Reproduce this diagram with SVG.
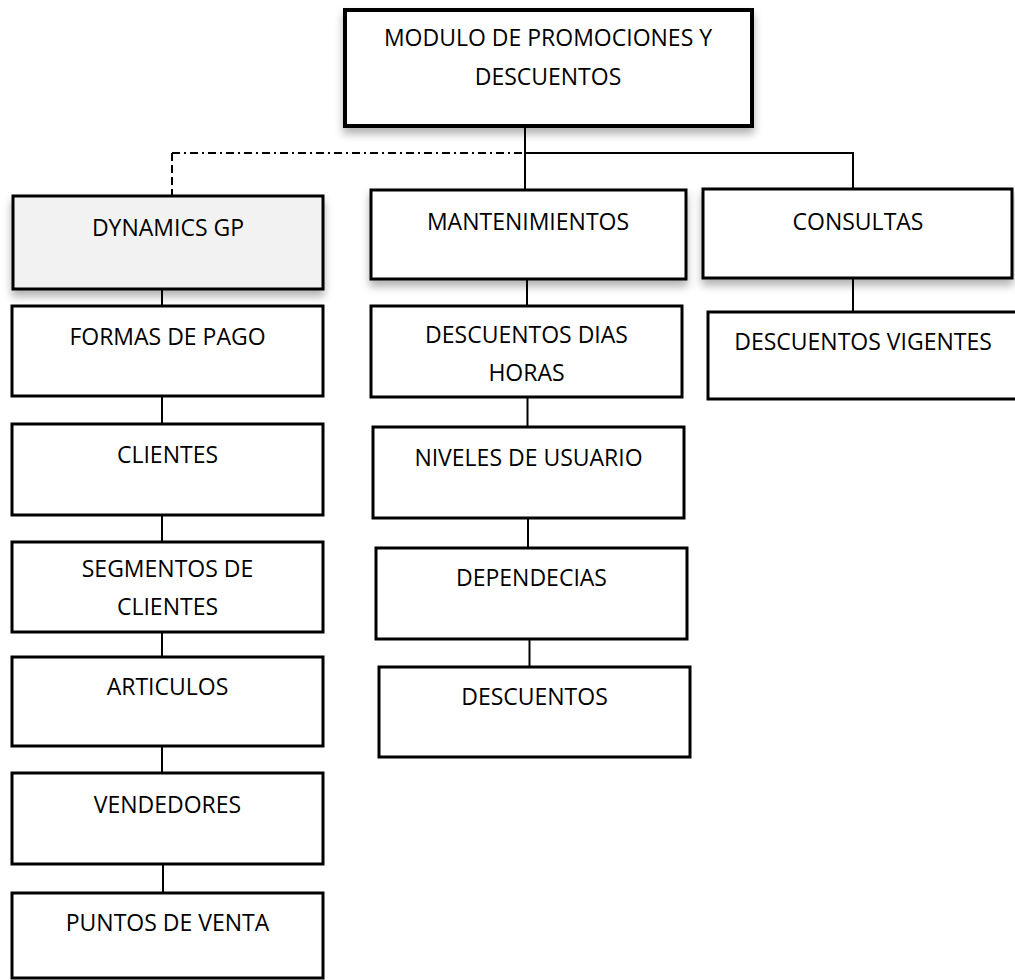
<svg xmlns="http://www.w3.org/2000/svg" width="1015" height="980" viewBox="0 0 1015 980">
<style>
.box{fill:#ffffff;stroke:#000000;stroke-width:3}
.top{stroke-width:4}
.gray{fill:#f2f2f2}
.sh{filter:url(#shadow)}
.lbl{font-family:"Open Sans","Liberation Sans",sans-serif;font-size:23px;fill:#000000;text-anchor:middle}
.ln{stroke:#000000;stroke-width:2;fill:none}
</style>
<defs>
<filter id="shadow" x="-10%" y="-10%" width="120%" height="140%">
<feDropShadow dx="0" dy="6" stdDeviation="4" flood-color="#000000" flood-opacity="0.3"/>
</filter>
</defs>
<g id="connectors">
<path class="ln" d="M525 126 V190 M525 153 H853 V189"/>
<path class="ln" d="M172 153 H525" stroke-dasharray="8 4 2 4"/>
<path class="ln" d="M172 153 V196" stroke-dasharray="8 4"/>
<path class="ln" d="M162 289 V306 M162 396 V424 M162 515 V542 M162 632 V657 M162 746 V773 M163 864 V893"/>
<path class="ln" d="M527 279 V306 M527.5 397 V427 M528 518 V548 M529.5 639 V667"/>
<path class="ln" d="M853 278 V312"/>
</g>
<g id="n-modulo"><rect class="box top sh" x="345" y="10" width="407" height="116"/><text class="lbl" x="548" y="46">MODULO DE PROMOCIONES Y</text><text class="lbl" x="548" y="85">DESCUENTOS</text></g>
<g id="n-dynamics"><rect class="box gray sh" x="13" y="196" width="310" height="93"/><text class="lbl" x="168" y="236">DYNAMICS GP</text></g>
<g id="n-mant"><rect class="box sh" x="371" y="190" width="315" height="89"/><text class="lbl" x="528" y="230">MANTENIMIENTOS</text></g>
<g id="n-consultas"><rect class="box sh" x="703" y="189" width="309" height="89"/><text class="lbl" x="858" y="230">CONSULTAS</text></g>
<g id="n-vigentes"><rect class="box" x="708" y="312" width="310" height="87"/><text class="lbl" x="863" y="350">DESCUENTOS VIGENTES</text></g>
<g id="n-formas"><rect class="box" x="12" y="306" width="311" height="90"/><text class="lbl" x="167.5" y="345">FORMAS DE PAGO</text></g>
<g id="n-clientes"><rect class="box" x="12" y="424" width="311" height="91"/><text class="lbl" x="167.5" y="463">CLIENTES</text></g>
<g id="n-segmentos"><rect class="box" x="12" y="542" width="311" height="90"/><text class="lbl" x="167.5" y="577">SEGMENTOS DE</text><text class="lbl" x="167.5" y="615">CLIENTES</text></g>
<g id="n-articulos"><rect class="box" x="12" y="657" width="311" height="89"/><text class="lbl" x="167.5" y="695">ARTICULOS</text></g>
<g id="n-vendedores"><rect class="box" x="12" y="773" width="311" height="91"/><text class="lbl" x="167.5" y="813">VENDEDORES</text></g>
<g id="n-puntos"><rect class="box" x="12" y="893" width="311" height="85"/><text class="lbl" x="167.5" y="931">PUNTOS DE VENTA</text></g>
<g id="n-dias"><rect class="box" x="371" y="306" width="311" height="91"/><text class="lbl" x="526.5" y="343">DESCUENTOS DIAS</text><text class="lbl" x="526.5" y="381">HORAS</text></g>
<g id="n-niveles"><rect class="box" x="373" y="427" width="311" height="91"/><text class="lbl" x="528.5" y="466">NIVELES DE USUARIO</text></g>
<g id="n-dependecias"><rect class="box" x="376" y="548" width="311" height="91"/><text class="lbl" x="531.5" y="586">DEPENDECIAS</text></g>
<g id="n-descuentos"><rect class="box" x="379" y="667" width="311" height="90"/><text class="lbl" x="534.5" y="705">DESCUENTOS</text></g>
</svg>
